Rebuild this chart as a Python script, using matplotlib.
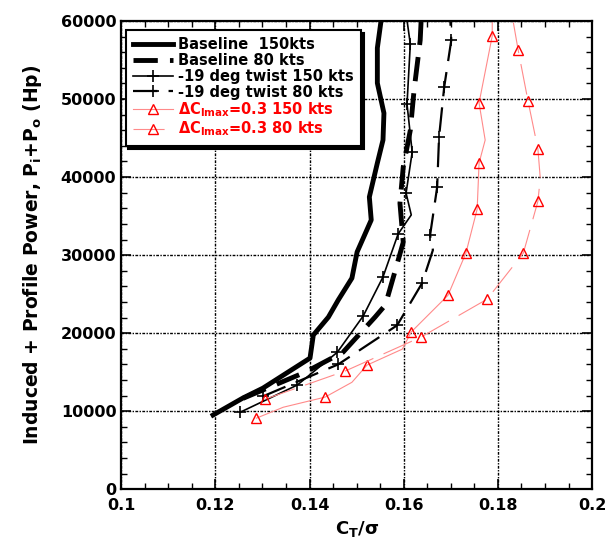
import matplotlib
matplotlib.use("Agg")
import matplotlib.pyplot as plt
from matplotlib.ticker import MultipleLocator, FixedLocator

plt.rcParams['font.family'] = ['DejaVu Sans']
plt.rcParams['font.weight'] = 'bold'
plt.rcParams['mathtext.fontset'] = 'dejavusans'
plt.rcParams['mathtext.default'] = 'bf'

# Baseline, 150 kts
b150_x = [0.1195, 0.1259, 0.1301, 0.1401, 0.1408, 0.1440, 0.1461, 0.1490, 0.1501,
          0.1531, 0.1527, 0.1544, 0.1556, 0.1558, 0.1544, 0.1544, 0.1552]
b150_y = [9500, 11700, 12950, 16800, 19750, 22050, 24250, 27050, 30400,
          34500, 37450, 41800, 44750, 48200, 52050, 56550, 60100]

# Baseline, 80 kts
b80_x = [0.1259, 0.1391, 0.1471, 0.1539, 0.1561, 0.1584, 0.1599, 0.1592, 0.1599,
         0.1614, 0.1622, 0.1635, 0.1637]
b80_y = [11650, 15000, 17550, 22050, 23600, 28450, 31650, 36650, 41300,
         46000, 51150, 57550, 60100]

# -19 deg twist, 150 kts
t150_x = [0.1253, 0.1374, 0.1459, 0.1514, 0.1556, 0.1588, 0.1616, 0.1605, 0.1618,
          0.1607, 0.1614, 0.1607]
t150_y = [9870, 13350, 17550, 22200, 27200, 32700, 35150, 37950, 43200,
          49350, 57050, 60100]

# -19 deg twist, 80 kts
t80_x = [0.1301, 0.1461, 0.1586, 0.1639, 0.1662, 0.1656, 0.1671, 0.1675, 0.1686,
         0.1701, 0.1699]
t80_y = [11900, 16000, 21000, 26400, 30650, 32550, 38700, 45100, 51550,
         57550, 60100]

# dClmax = 0.3, 150 kts
r150_x = [0.1287, 0.1344, 0.1433, 0.1490, 0.1522, 0.1597, 0.1616, 0.1694, 0.1732,
          0.1756, 0.1760, 0.1773, 0.1760, 0.1788, 0.1788]
r150_y = [9100, 10500, 11800, 13700, 15900, 17950, 20150, 24850, 30250,
          35900, 41800, 44750, 49500, 58100, 60100]

# dClmax = 0.3, 80 kts
r80_x = [0.1306, 0.1476, 0.1637, 0.1777, 0.1854, 0.1885, 0.1890, 0.1885, 0.1864,
         0.1843, 0.1832]
r80_y = [11550, 15150, 19500, 24350, 30250, 36900, 39850, 43600, 49750,
         56300, 60100]

labels = ["Baseline  150kts", "Baseline 80 kts", "-19 deg twist 150 kts",
          "-19 deg twist 80 kts", r"$\Delta$C$_{lmax}$=0.3 150 kts",
          r"$\Delta$C$_{lmax}$=0.3 80 kts"]

x_ticks = [0.1, 0.12, 0.14, 0.16, 0.18, 0.2]
x_ticklabels = ["0.1", "0.12", "0.14", "0.16", "0.18", "0.2"]
y_ticks = [0, 10000, 20000, 30000, 40000, 50000, 60000]

fig = plt.figure(figsize=(6.06, 5.54), dpi=100)
ax = fig.add_axes([0.2, 0.117, 0.777, 0.845])

light_red = '#ff8a8a'

ax.plot(b150_x, b150_y, color='k', lw=3.5, label=labels[0])
ax.plot(b80_x, b80_y, color='k', lw=3.5, dashes=(5, 2.5), label=labels[1])
ax.plot(t150_x, t150_y, color='k', lw=1.2, marker='+', ms=8, mew=1.2,
        markevery=[0, 1, 2, 3, 4, 5, 7, 8, 9, 10], label=labels[2])
ax.plot(t80_x, t80_y, color='k', lw=1.6, dashes=(11, 5), marker='+', ms=8, mew=1.2,
        markevery=[0, 1, 2, 3, 5, 6, 7, 8, 9], label=labels[3])
ax.plot(r150_x, r150_y, color=light_red, lw=0.8, marker='^', ms=7, mfc='none',
        mec='red', mew=1.0, markevery=[0, 2, 4, 6, 7, 8, 9, 10, 12, 13], label=labels[4])
ax.plot(r80_x, r80_y, color=light_red, lw=0.8, dashes=(28, 10), marker='^', ms=7,
        mfc='none', mec='red', mew=1.0, markevery=[0, 1, 2, 3, 4, 5, 7, 8, 9],
        label=labels[5])

ax.set_xlim(0.1, 0.2)
ax.set_ylim(0, 60000)
ax.xaxis.set_major_locator(FixedLocator(x_ticks))
ax.set_xticklabels(x_ticklabels)
ax.xaxis.set_minor_locator(MultipleLocator(0.005))
ax.yaxis.set_major_locator(FixedLocator(y_ticks))
ax.set_yticklabels([str(v) for v in y_ticks])
ax.yaxis.set_minor_locator(MultipleLocator(2000))
ax.tick_params(which='both', direction='in', top=True, right=True, labelsize=11.5)
ax.tick_params(axis='x', which='major', pad=6)
ax.tick_params(which='major', length=7, width=1.2)
ax.tick_params(which='minor', length=4, width=1.0)
for s in ax.spines.values():
    s.set_linewidth(1.6)

ax.grid(True, which='major', color='k', linestyle=(0, (2, 1, 1, 1)), linewidth=1.0)

ax.set_xlabel(r"C$_T$/$\sigma$", fontsize=13, fontweight='bold', labelpad=5)
ax.set_ylabel(r"Induced + Profile Power, P$_i$+P$_o$ (Hp)",
              fontsize=13.5, fontweight='bold', labelpad=12)

leg = ax.legend(loc='upper left', bbox_to_anchor=(0.0, 0.99), fontsize=10.5,
                frameon=True, fancybox=False, edgecolor='k', framealpha=1,
                handlelength=2.75, handletextpad=0.35, labelspacing=0.05,
                borderpad=0.5, borderaxespad=0.3,
                shadow={'color': 'k', 'alpha': 1})
leg.get_frame().set_linewidth(1.5)
for i, t in enumerate(leg.get_texts()):
    t.set_fontweight('bold')
    if i >= 4:
        t.set_color('red')

fig.savefig("out.png", dpi=100)
